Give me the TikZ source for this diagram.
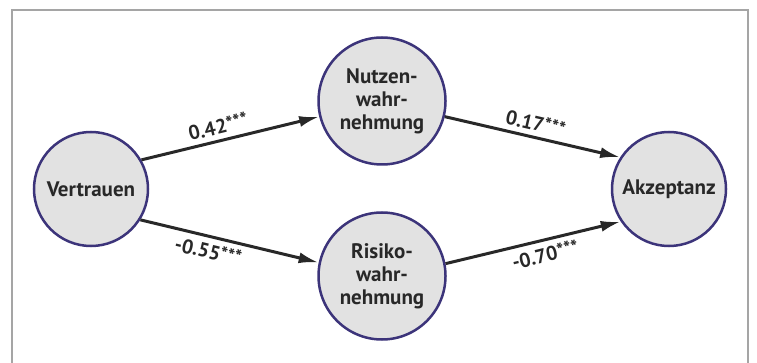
\documentclass[tikz,border=0pt]{standalone}
\usepackage{fontspec}
\setmainfont{PT Sans}
\usepackage{tikz}
\usetikzlibrary{arrows.meta}

\definecolor{kreisrand}{RGB}{60,52,122}
\definecolor{kreisgrau}{RGB}{226,226,226}
\definecolor{rahmen}{RGB}{165,165,165}
\definecolor{schrift}{RGB}{40,40,40}
\newcommand\sterne{\raisebox{1.5pt}{\fontsize{19}{19}\selectfont***}}

\begin{document}
\begin{tikzpicture}[x=1pt,y=-1pt]
\tikzstyle{konstrukt}=[circle,draw=kreisrand,fill=kreisgrau,text=schrift,line width=2.5pt,minimum size=114pt,inner sep=0pt,align=center,font=\fontsize{21}{23}\selectfont\bfseries]
\tikzstyle{pfad}=[-{Latex[length=20pt,width=11pt]},line width=3pt,schrift]
\tikzstyle{gewicht}=[sloped,inner sep=5pt,text=schrift,font=\fontsize{20}{24}\selectfont\bfseries]
\useasboundingbox (0,0) rectangle (757,363);
\draw[rahmen,line width=2pt] (12,363) -- (12,10) -- (748,10) -- (748,363);
% Konstrukte
\node[konstrukt] (vertrauen) at (91,189) {Vertrauen};
\node[konstrukt,minimum size=127pt] (nutzen) at (382,101) {Nutzen-\\wahr-\\nehmung};
\node[konstrukt,minimum size=127pt] (risiko) at (382,276) {Risiko-\\wahr-\\nehmung};
\node[konstrukt] (akzeptanz) at (669,189) {Akzeptanz};
% Pfade
\draw[pfad] (vertrauen.30) -- node[gewicht,above,pos=0.45] {0.42\sterne} (nutzen.194);
\draw[pfad] (vertrauen.328) -- node[gewicht,below,pos=0.4] {-0.55\sterne} (risiko.168);
\draw[pfad] (nutzen.346) -- node[gewicht,above] {0.17\sterne} (akzeptanz.147);
\draw[pfad] (risiko.11) -- node[gewicht,below,pos=0.55] {-0.70\sterne} (akzeptanz.214);
\end{tikzpicture}
\end{document}
